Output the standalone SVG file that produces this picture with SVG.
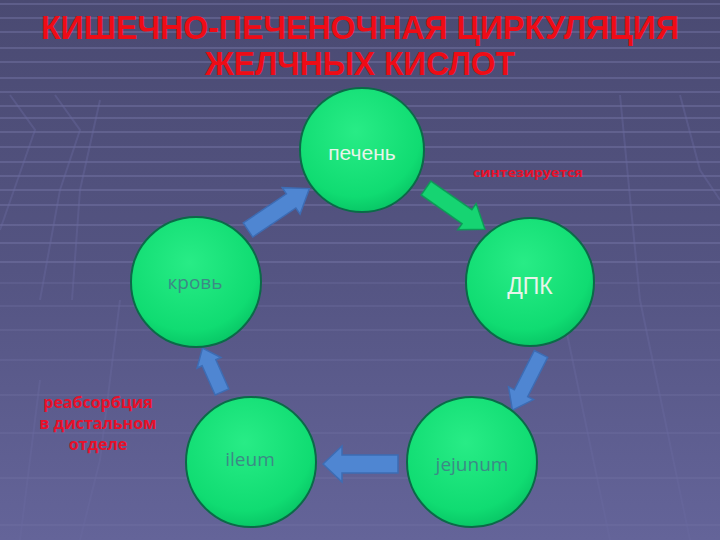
<svg xmlns="http://www.w3.org/2000/svg" width="720" height="540" viewBox="0 0 720 540">
<defs>
<linearGradient id="bg" x1="0" y1="0" x2="0" y2="1">
<stop offset="0" stop-color="#4a4a72"/>
<stop offset="0.5" stop-color="#545482"/>
<stop offset="1" stop-color="#646499"/>
</linearGradient>
<radialGradient id="ball" cx="0.45" cy="0.35" r="0.7">
<stop offset="0" stop-color="#28ec86"/>
<stop offset="0.75" stop-color="#10dc72"/>
<stop offset="1" stop-color="#06c062"/>
</radialGradient>
<style>
.hl{stroke:#7c7cae;stroke-width:2;opacity:0.4}
.vl{stroke:#6a6aa0;stroke-width:2;opacity:0.4;fill:none}
.node circle{fill:url(#ball);stroke:#0b6a48;stroke-width:2}
.blue{fill:#4f86d2;stroke:#3d6cb4;stroke-width:1.5}
.green{fill:#16d472;stroke:#0e9a58;stroke-width:1.5}
.title{font-family:"Liberation Sans",Arial,sans-serif;font-weight:bold;font-size:34px;fill:#ee0c16;text-anchor:middle}
.lt{font-family:"Liberation Sans",Arial,sans-serif;fill:#e8f4ea;text-anchor:middle}
.tl{font-family:"Open Sans","DejaVu Sans",sans-serif;fill:#3c8a86;text-anchor:middle}
.red{font-family:"Open Sans","DejaVu Sans",sans-serif;fill:#e8102a;text-anchor:middle}
</style>
</defs>
<rect width="720" height="540" fill="url(#bg)"/>
<g id="grid">
<g class="hl">
<line x1="0" y1="4" x2="720" y2="4"/><line x1="0" y1="18" x2="720" y2="18"/><line x1="0" y1="32" x2="720" y2="32"/><line x1="0" y1="48" x2="720" y2="48"/><line x1="0" y1="62" x2="720" y2="62"/><line x1="0" y1="78" x2="720" y2="78"/>
<line x1="0" y1="92" x2="720" y2="92"/><line x1="0" y1="106" x2="720" y2="106"/><line x1="0" y1="118" x2="720" y2="118"/><line x1="0" y1="132" x2="720" y2="132"/><line x1="0" y1="147" x2="720" y2="147"/><line x1="0" y1="162" x2="720" y2="162"/><line x1="0" y1="176" x2="720" y2="176"/><line x1="0" y1="190" x2="720" y2="190"/><line x1="0" y1="205" x2="720" y2="205"/><line x1="0" y1="225" x2="720" y2="225"/><line x1="0" y1="243" x2="720" y2="243"/><line x1="0" y1="262" x2="720" y2="262"/>
</g>
<g class="hl" style="opacity:0.22">
<line x1="0" y1="283" x2="720" y2="283"/><line x1="0" y1="306" x2="720" y2="306"/><line x1="0" y1="330" x2="720" y2="330"/><line x1="0" y1="360" x2="720" y2="360"/><line x1="0" y1="395" x2="720" y2="395"/><line x1="0" y1="433" x2="720" y2="433"/><line x1="0" y1="478" x2="720" y2="478"/><line x1="0" y1="525" x2="720" y2="525"/>
</g>
<g class="vl">
<path d="M10,95 L35,130 L0,230"/><path d="M55,95 L80,130 L60,190 L40,300"/><path d="M100,100 L80,190 L72,300"/>
<path d="M620,95 L640,300 L690,540"/><path d="M680,95 L700,170 L720,200"/><path d="M560,300 L610,540"/>
<path d="M120,300 L100,460 L80,540"/><path d="M40,380 L20,540"/>
</g>
</g>
<g id="title">
<text class="title" x="360" y="39" textLength="638" lengthAdjust="spacingAndGlyphs">КИШЕЧНО-ПЕЧЕНОЧНАЯ ЦИРКУЛЯЦИЯ</text>
<text class="title" x="360" y="75" textLength="310" lengthAdjust="spacingAndGlyphs">ЖЕЛЧНЫХ КИСЛОТ</text>
</g>
<g id="connectors">
<path class="blue" transform="translate(248,230) rotate(-34)" d="M0,-8.5 L52,-8.5 L52,-16 L74,0 L52,16 L52,8.5 L0,8.5 Z"/>
<path class="green" transform="translate(426,188) rotate(35)" d="M0,-8.5 L50,-8.5 L50,-16 L72,0 L50,16 L50,8.5 L0,8.5 Z"/>
<path class="blue" transform="translate(541,354) rotate(117)" d="M0,-7.5 L44,-7.5 L44,-14 L63,0 L44,14 L44,7.5 L0,7.5 Z"/>
<path class="blue" transform="translate(398,464) rotate(180)" d="M0,-9 L56,-9 L56,-18 L75,0 L56,18 L56,9 L0,9 Z"/>
<path class="blue" transform="translate(222,392) rotate(-114)" d="M0,-7.5 L32,-7.5 L32,-13 L48,0 L32,13 L32,7.5 L0,7.5 Z"/>
</g>
<g id="node-pechen" class="node"><circle cx="362" cy="150" r="62"/><text class="lt" x="362" y="160" font-size="21">печень</text></g>
<g id="node-dpk" class="node"><circle cx="530" cy="282" r="64"/><text class="lt" x="530" y="294" font-size="23">ДПК</text></g>
<g id="node-krov" class="node"><circle cx="196" cy="282" r="65"/><text class="tl" x="195" y="289" font-size="19">кровь</text></g>
<g id="node-ileum" class="node"><circle cx="251" cy="462" r="65"/><text class="tl" x="250" y="466" font-size="19">ileum</text></g>
<g id="node-jejunum" class="node"><circle cx="472" cy="462" r="65"/><text class="tl" x="472" y="471" font-size="19">jejunum</text></g>
<g id="labels">
<text class="red" x="528" y="177" font-size="13" font-weight="bold" textLength="110" lengthAdjust="spacingAndGlyphs">синтезируется</text>
<text class="red" x="98" y="408" font-size="16" font-weight="bold">реабсорбция</text>
<text class="red" x="98" y="429" font-size="16" font-weight="bold">в дистальном</text>
<text class="red" x="98" y="450" font-size="16" font-weight="bold">отделе</text>
</g>
</svg>
